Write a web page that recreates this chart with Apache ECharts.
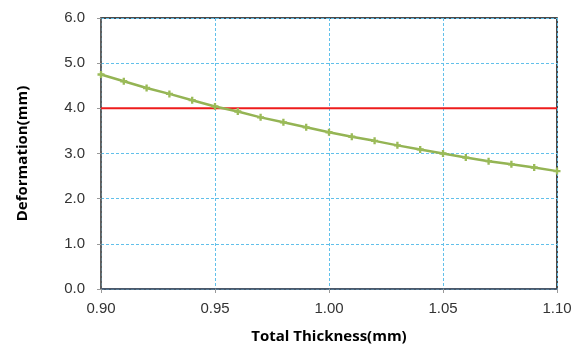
<!DOCTYPE html>
<html>
<head>
<meta charset="utf-8">
<script src="https://cdn.jsdelivr.net/npm/echarts@6/dist/echarts.min.js"></script>
<style>
html, body { margin: 0; padding: 0; background: #fff; }
#chart { width: 580px; height: 349px; }
</style>
</head>
<body>
<div id="chart"></div>
<script>
var thickness = [0.90, 0.91, 0.92, 0.93, 0.94, 0.95, 0.96, 0.97, 0.98, 0.99, 1.00,
    1.01, 1.02, 1.03, 1.04, 1.05, 1.06, 1.07, 1.08, 1.09, 1.10];
var deformation = [4.75, 4.60, 4.45, 4.32, 4.18, 4.04, 3.93, 3.80, 3.69, 3.58, 3.47,
    3.37, 3.28, 3.18, 3.09, 3.00, 2.91, 2.83, 2.76, 2.69, 2.61];
var limitValue = 4.0;
var xRange = [0.90, 1.10];

var chart = echarts.init(document.getElementById('chart'), null, { renderer: 'canvas' });

var points = thickness.map(function (t, i) { return [t, deformation[i]]; });
var limitLine = xRange.map(function (t) { return [t, limitValue]; });

var gridDash = { color: '#62c0ea', type: [3, 2], width: 1 };

var option = {
    animation: false,
    grid: {
        left: 101,
        right: 23,
        top: 18,
        bottom: 57,
        show: true,
        borderColor: '#111',
        borderWidth: 1.5
    },
    xAxis: {
        type: 'value',
        min: 0.90,
        max: 1.10,
        interval: 0.05,
        name: 'Total Thickness(mm)',
        nameLocation: 'middle',
        nameGap: 40,
        nameTextStyle: { fontFamily: 'Open Sans', fontWeight: 'bold', fontSize: 15, color: '#000' },
        axisLine: { lineStyle: { color: '#4d5e74', width: 1.5 } },
        axisTick: { show: true, length: 4, lineStyle: { color: '#999' } },
        axisLabel: {
            fontFamily: 'Liberation Sans', fontSize: 15, color: '#333', margin: 12,
            formatter: function (v) { return v.toFixed(2); }
        },
        splitLine: { show: true, lineStyle: gridDash }
    },
    yAxis: {
        type: 'value',
        min: 0,
        max: 6,
        interval: 1,
        name: 'Deformation(mm)',
        nameLocation: 'middle',
        nameGap: 71,
        nameTextStyle: { fontFamily: 'Open Sans', fontWeight: 'bold', fontSize: 15, color: '#000' },
        axisLine: { show: true, lineStyle: { color: '#666', width: 1.5 } },
        axisTick: { show: true, inside: false, length: 4, lineStyle: { color: '#999' } },
        axisLabel: {
            fontFamily: 'Liberation Sans', fontSize: 15, color: '#333', margin: 16,
            formatter: function (v) { return v.toFixed(1); }
        },
        splitLine: { show: true, lineStyle: gridDash }
    },
    series: [{
        name: 'Limit',
        type: 'line',
        data: limitLine,
        symbol: 'none',
        lineStyle: { color: '#ee1c1c', width: 2 },
        z: 3
    }, {
        name: 'Deformation',
        type: 'line',
        data: points,
        symbol: 'path://M2,0L4,0L4,2L6,2L6,4L4,4L4,6L2,6L2,4L0,4L0,2L2,2Z',
        symbolSize: 7,
        itemStyle: { color: '#9bbb59' },
        lineStyle: { color: '#94b454', width: 2.5 },
        z: 4
    }]
};
chart.setOption(option);
</script>
</body>
</html>
